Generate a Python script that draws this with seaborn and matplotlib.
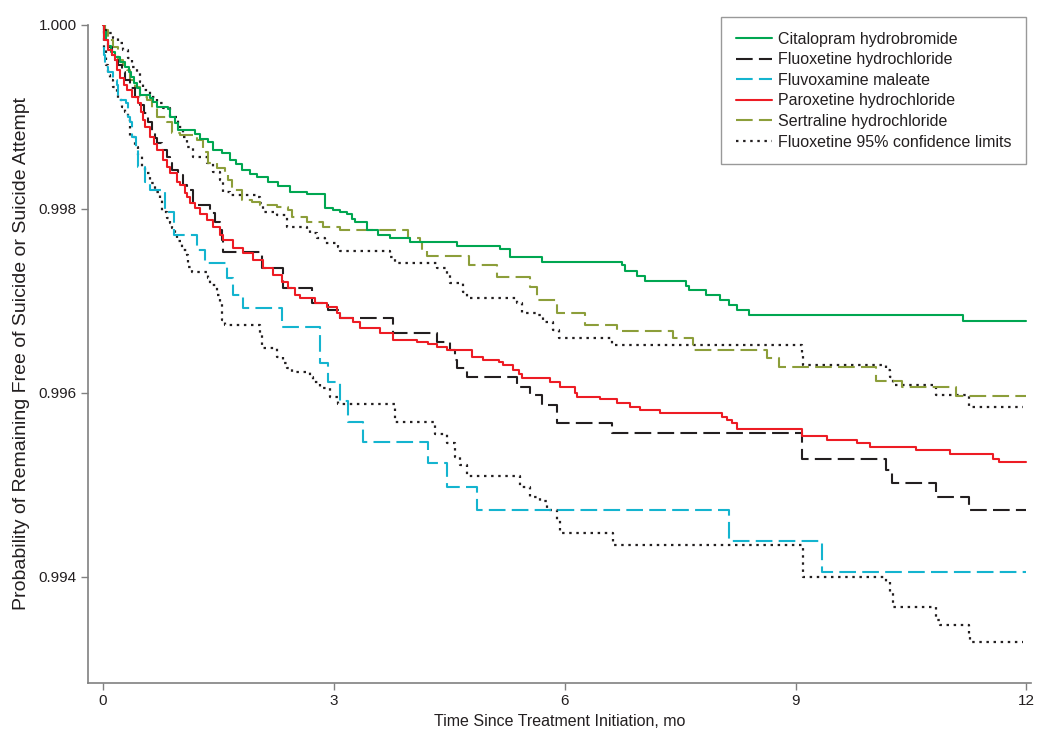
import numpy as np
import seaborn as sns
import matplotlib.pyplot as plt

# Kaplan-Meier style step curves (time in months, survival prob)
cit_t = [0, 0.01, 0.04, 0.07, 0.10, 0.16, 0.22, 0.29, 0.34, 0.36, 0.40, 0.44, 0.48, 0.61, 0.65,
         0.70, 0.85, 0.87, 0.94, 0.98, 1.20, 1.26, 1.37, 1.43, 1.55, 1.65, 1.73, 1.81, 1.91, 2.00,
         2.15, 2.28, 2.43, 2.65, 2.89, 2.99, 3.08, 3.17, 3.24, 3.28, 3.43, 3.58, 3.73, 3.99, 4.60,
         5.16, 5.29, 5.71, 6.75, 6.79, 6.94, 7.05, 7.58, 7.61, 7.84, 8.02, 8.13, 8.24, 8.39, 11.17, 12.0]
cit_s = [1.00000, 0.99992, 0.99984, 0.99977, 0.99971, 0.99965, 0.99960, 0.99954, 0.99949, 0.99943,
         0.99937, 0.99932, 0.99924, 0.99921, 0.99916, 0.99911, 0.99909, 0.99900, 0.99893, 0.99886,
         0.99882, 0.99876, 0.99873, 0.99864, 0.99861, 0.99853, 0.99849, 0.99842, 0.99838, 0.99835,
         0.99829, 0.99825, 0.99818, 0.99816, 0.99801, 0.99799, 0.99797, 0.99795, 0.99789, 0.99786,
         0.99777, 0.99772, 0.99768, 0.99764, 0.99760, 0.99757, 0.99748, 0.99742, 0.99739, 0.99733,
         0.99727, 0.99722, 0.99716, 0.99712, 0.99707, 0.99701, 0.99696, 0.99690, 0.99685, 0.99678, 0.99678]

flu_t = [0, 0.01, 0.04, 0.07, 0.12, 0.16, 0.20, 0.25, 0.29, 0.35, 0.42, 0.48, 0.53, 0.59, 0.64,
         0.68, 0.70, 0.77, 0.83, 0.87, 0.90, 0.98, 1.04, 1.09, 1.17, 1.39, 1.46, 1.52, 1.55, 1.56,
         2.07, 2.34, 2.72, 2.93, 3.08, 3.77, 4.34, 4.51, 4.58, 4.60, 4.73, 5.38, 5.55, 5.71, 5.90,
         6.62, 9.09, 10.17, 10.26, 10.82, 11.25, 12.0]
flu_s = [1.00000, 0.99995, 0.99986, 0.99976, 0.99967, 0.99962, 0.99957, 0.99949, 0.99940, 0.99932,
         0.99922, 0.99913, 0.99904, 0.99895, 0.99884, 0.99877, 0.99872, 0.99864, 0.99857, 0.99850,
         0.99842, 0.99837, 0.99826, 0.99821, 0.99804, 0.99796, 0.99786, 0.99777, 0.99766, 0.99753,
         0.99736, 0.99714, 0.99698, 0.99690, 0.99682, 0.99665, 0.99655, 0.99647, 0.99636, 0.99627,
         0.99617, 0.99607, 0.99598, 0.99587, 0.99567, 0.99557, 0.99528, 0.99516, 0.99502, 0.99487,
         0.99473, 0.99473]

fvx_t = [0, 0.01, 0.03, 0.07, 0.13, 0.18, 0.20, 0.30, 0.33, 0.35, 0.38, 0.43, 0.46, 0.55, 0.61,
         0.81, 0.92, 1.22, 1.33, 1.61, 1.69, 1.82, 2.33, 2.82, 2.93, 3.08, 3.19, 3.38, 4.23, 4.47,
         4.86, 8.13, 9.35, 12.0]
fvx_s = [1.00000, 0.99967, 0.99954, 0.99949, 0.99940, 0.99935, 0.99918, 0.99915, 0.99900, 0.99895,
         0.99878, 0.99864, 0.99846, 0.99829, 0.99821, 0.99797, 0.99772, 0.99755, 0.99741, 0.99725,
         0.99707, 0.99692, 0.99672, 0.99633, 0.99612, 0.99591, 0.99568, 0.99547, 0.99524, 0.99498,
         0.99473, 0.99439, 0.99405, 0.99405]

par_t = [0, 0.01, 0.07, 0.12, 0.16, 0.18, 0.22, 0.27, 0.31, 0.38, 0.46, 0.49, 0.52, 0.55, 0.61,
         0.66, 0.70, 0.78, 0.83, 0.87, 0.96, 1.00, 1.07, 1.09, 1.13, 1.20, 1.26, 1.35, 1.43, 1.52,
         1.56, 1.69, 1.82, 1.95, 2.08, 2.21, 2.33, 2.41, 2.50, 2.56, 2.76, 2.91, 3.04, 3.08, 3.25,
         3.34, 3.60, 3.77, 4.08, 4.23, 4.34, 4.47, 4.80, 4.94, 5.14, 5.20, 5.33, 5.40, 5.45, 5.81,
         5.94, 6.14, 6.16, 6.46, 6.68, 6.85, 6.98, 7.24, 8.05, 8.11, 8.18, 8.24, 9.09, 9.41, 9.80,
         9.97, 10.56, 11.01, 11.57, 11.64, 12.0]
par_s = [1.00000, 0.99984, 0.99973, 0.99967, 0.99962, 0.99951, 0.99942, 0.99935, 0.99929, 0.99922,
         0.99915, 0.99905, 0.99897, 0.99889, 0.99878, 0.99871, 0.99864, 0.99853, 0.99846, 0.99839,
         0.99829, 0.99826, 0.99817, 0.99813, 0.99807, 0.99801, 0.99795, 0.99788, 0.99780, 0.99772,
         0.99766, 0.99758, 0.99752, 0.99745, 0.99736, 0.99728, 0.99721, 0.99714, 0.99707, 0.99703,
         0.99698, 0.99693, 0.99687, 0.99682, 0.99677, 0.99671, 0.99665, 0.99658, 0.99655, 0.99653,
         0.99650, 0.99647, 0.99639, 0.99636, 0.99634, 0.99630, 0.99625, 0.99621, 0.99616, 0.99612,
         0.99607, 0.99600, 0.99596, 0.99593, 0.99589, 0.99585, 0.99582, 0.99578, 0.99574, 0.99571,
         0.99567, 0.99561, 0.99553, 0.99549, 0.99546, 0.99541, 0.99538, 0.99534, 0.99528, 0.99525,
         0.99525]

ser_t = [0, 0.03, 0.07, 0.09, 0.13, 0.20, 0.26, 0.31, 0.35, 0.42, 0.48, 0.57, 0.64, 0.70, 0.83,
         0.90, 1.00, 1.22, 1.30, 1.37, 1.48, 1.59, 1.63, 1.68, 1.81, 1.94, 2.04, 2.26, 2.41, 2.46,
         2.65, 2.86, 3.08, 3.97, 4.12, 4.15, 4.21, 4.75, 5.12, 5.55, 5.64, 5.90, 6.27, 6.68, 7.41,
         7.67, 8.63, 8.78, 10.04, 10.39, 11.08, 12.0]
ser_s = [1.00000, 0.99995, 0.99987, 0.99984, 0.99976, 0.99962, 0.99957, 0.99951, 0.99940, 0.99933,
         0.99922, 0.99918, 0.99910, 0.99900, 0.99895, 0.99883, 0.99880, 0.99875, 0.99862, 0.99850,
         0.99845, 0.99840, 0.99831, 0.99821, 0.99810, 0.99808, 0.99804, 0.99802, 0.99799, 0.99791,
         0.99786, 0.99780, 0.99777, 0.99768, 0.99764, 0.99755, 0.99749, 0.99739, 0.99726, 0.99715,
         0.99701, 0.99687, 0.99674, 0.99667, 0.99660, 0.99647, 0.99638, 0.99628, 0.99613, 0.99607,
         0.99597, 0.99597]

ci_hi_t = [0, 0.03, 0.05, 0.13, 0.20, 0.26, 0.33, 0.38, 0.44, 0.48, 0.52, 0.61, 0.70, 0.78, 0.87,
           0.98, 1.04, 1.09, 1.17, 1.35, 1.43, 1.52, 1.56, 1.65, 2.00, 2.04, 2.08, 2.26, 2.39, 2.65,
           2.69, 2.78, 2.89, 3.06, 3.08, 3.73, 3.80, 4.34, 4.47, 4.51, 4.68, 4.73, 5.38, 5.45, 5.64,
           5.72, 5.85, 5.92, 6.62, 9.09, 9.10, 10.17, 10.23, 10.27, 10.82, 11.25, 11.95]
ci_hi_s = [1.00000, 0.99995, 0.99991, 0.99986, 0.99980, 0.99973, 0.99964, 0.99954, 0.99948, 0.99938,
           0.99929, 0.99922, 0.99915, 0.99910, 0.99900, 0.99889, 0.99878, 0.99867, 0.99857, 0.99850,
           0.99840, 0.99831, 0.99818, 0.99815, 0.99813, 0.99807, 0.99797, 0.99793, 0.99780, 0.99778,
           0.99774, 0.99768, 0.99763, 0.99759, 0.99754, 0.99748, 0.99741, 0.99736, 0.99728, 0.99720,
           0.99710, 0.99703, 0.99698, 0.99687, 0.99685, 0.99677, 0.99668, 0.99660, 0.99652, 0.99641,
           0.99630, 0.99625, 0.99617, 0.99609, 0.99598, 0.99585, 0.99585]

ci_lo_t = [0, 0.01, 0.04, 0.07, 0.09, 0.13, 0.18, 0.20, 0.25, 0.29, 0.33, 0.35, 0.42, 0.46, 0.51,
           0.55, 0.61, 0.68, 0.74, 0.77, 0.83, 0.87, 0.90, 0.94, 0.96, 1.03, 1.09, 1.11, 1.16, 1.37,
           1.39, 1.48, 1.52, 1.55, 1.59, 2.04, 2.07, 2.26, 2.34, 2.39, 2.46, 2.69, 2.73, 2.82, 2.95,
           3.06, 3.80, 4.32, 4.47, 4.58, 4.64, 4.73, 5.42, 5.55, 5.68, 5.77, 5.90, 5.94, 6.63, 9.10,
           10.17, 10.23, 10.27, 10.82, 10.88, 11.25, 11.27, 11.95]
ci_lo_s = [1.00000, 0.99973, 0.99957, 0.99946, 0.99940, 0.99933, 0.99924, 0.99918, 0.99911, 0.99905,
           0.99897, 0.99878, 0.99867, 0.99859, 0.99846, 0.99839, 0.99828, 0.99818, 0.99810, 0.99797,
           0.99790, 0.99785, 0.99779, 0.99774, 0.99765, 0.99755, 0.99750, 0.99737, 0.99731, 0.99725,
           0.99717, 0.99707, 0.99698, 0.99679, 0.99674, 0.99665, 0.99649, 0.99639, 0.99633, 0.99627,
           0.99623, 0.99617, 0.99612, 0.99605, 0.99596, 0.99588, 0.99568, 0.99555, 0.99546, 0.99530,
           0.99522, 0.99510, 0.99498, 0.99487, 0.99483, 0.99473, 0.99462, 0.99448, 0.99435, 0.99400,
           0.99395, 0.99383, 0.99367, 0.99353, 0.99348, 0.99335, 0.99329, 0.99329]

labels = ["Citalopram hydrobromide", "Fluoxetine hydrochloride", "Fluvoxamine maleate",
          "Paroxetine hydrochloride", "Sertraline hydrochloride", "Fluoxetine 95% confidence limits"]
x_ticks = [0, 3, 6, 9, 12]
y_ticks = [0.994, 0.996, 0.998, 1.000]

sns.set_style("ticks")
plt.rcParams['font.family'] = ['Liberation Sans', 'DejaVu Sans']
plt.rcParams['text.color'] = '#231f20'
plt.rcParams['axes.labelcolor'] = '#231f20'

fig = plt.figure(figsize=(10.5, 7.53), dpi=100)
ax = fig.add_axes([0.0838, 0.0930, 0.8981, 0.8738])

dash = (0, (8, 3))
dot = (0, (1.1, 2.1))
lw = 1.5

sns.lineplot(x=ci_hi_t, y=ci_hi_s, ax=ax, drawstyle='steps-post', color='#231f20',
             linestyle=dot, linewidth=1.6, label=labels[5])
sns.lineplot(x=ci_lo_t, y=ci_lo_s, ax=ax, drawstyle='steps-post', color='#231f20',
             linestyle=dot, linewidth=1.6, label='_nolegend_')
sns.lineplot(x=ser_t, y=ser_s, ax=ax, drawstyle='steps-post', color='#8c9e3a',
             linestyle=dash, linewidth=lw, label=labels[4])
sns.lineplot(x=fvx_t, y=fvx_s, ax=ax, drawstyle='steps-post', color='#14b4cf',
             linestyle=dash, linewidth=lw, label=labels[2])
sns.lineplot(x=flu_t, y=flu_s, ax=ax, drawstyle='steps-post', color='#231f20',
             linestyle=dash, linewidth=lw, label=labels[1])
sns.lineplot(x=cit_t, y=cit_s, ax=ax, drawstyle='steps-post', color='#00a651',
             linewidth=lw, label=labels[0])
sns.lineplot(x=par_t, y=par_s, ax=ax, drawstyle='steps-post', color='#ed1c24',
             linewidth=lw, label=labels[3])

ax.set_xlim(-0.195, 12.06)
ax.set_ylim(0.992848, 1.0)
ax.set_xticks(x_ticks)
ax.set_yticks(y_ticks)
ax.set_yticklabels([f"{v:.3f}" for v in y_ticks])
ax.tick_params(axis='both', direction='out', length=5, width=1.0, color='#808080',
               labelsize=11, labelcolor='#231f20', pad=3)
for side in ['top', 'right']:
    ax.spines[side].set_visible(False)
for side in ['left', 'bottom']:
    ax.spines[side].set_color('#808080')
    ax.spines[side].set_linewidth(1.2)

ax.set_xlabel("Time Since Treatment Initiation, mo", fontsize=11.5)
ax.set_ylabel("Probability of Remaining Free of Suicide or Suicide Attempt", fontsize=14)
ax.xaxis.set_label_coords(0.5, -0.047)
ax.yaxis.set_label_coords(-0.062, 0.5)

handles, labs = ax.get_legend_handles_labels()
order = [labs.index(l) for l in labels]
leg = ax.legend([handles[i] for i in order], [labs[i] for i in order],
                loc='upper right', bbox_to_anchor=(0.977, 0.977), bbox_transform=fig.transFigure,
                fontsize=11.5, frameon=True, fancybox=False, edgecolor='#808080',
                handlelength=2.3, handletextpad=0.35, labelspacing=0.35, borderpad=0.9,
                borderaxespad=0)
leg.get_frame().set_linewidth(1.0)

fig.savefig("out.png", dpi=100)
